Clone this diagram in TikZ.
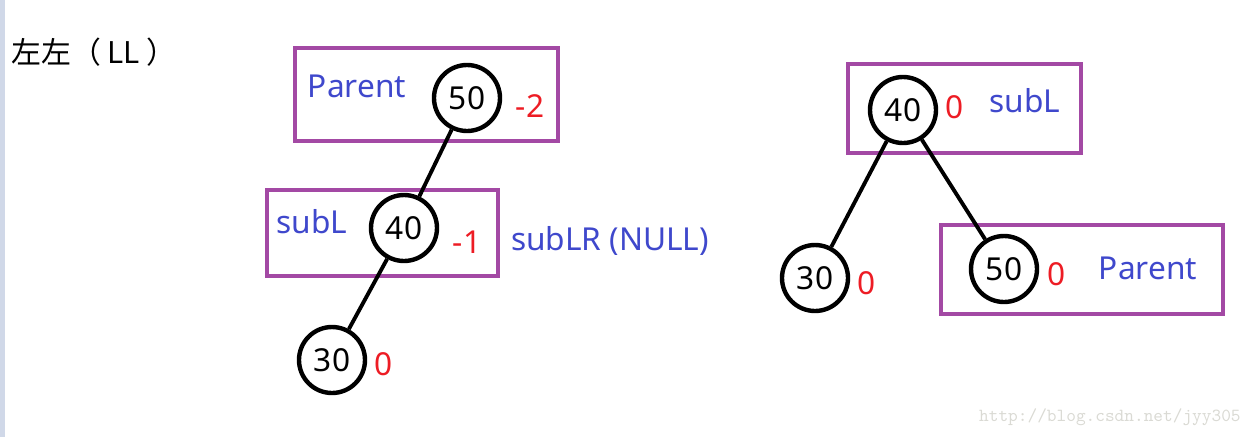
\documentclass[tikz,border=0pt]{standalone}
\usepackage{fontspec}
\setmainfont{Noto Sans}
\newfontfamily\cjkfont{Noto Sans CJK SC}
\definecolor{boxpurple}{RGB}{163,73,164}
\definecolor{tagblue}{RGB}{63,72,204}
\definecolor{balred}{RGB}{237,28,36}
\definecolor{barblue}{RGB}{208,216,232}
\definecolor{markgray}{RGB}{218,218,212}
\usetikzlibrary{positioning}

\begin{document}
\begin{tikzpicture}[x=0.02cm, y=-0.02cm,
    treenode/.style={circle, draw, line width=2.5pt, minimum size=1.32cm, inner sep=0pt,
      font=\fontsize{18}{18}\selectfont},
    bal/.style={text=balred, inner sep=0pt, font=\fontsize{18}{18}\selectfont},
    tag/.style={text=tagblue, inner sep=0pt, font=\fontsize{18}{18}\selectfont},
    frame/.style={draw=boxpurple, line width=2.3pt},
    link/.style={line width=2.2pt}]
  \useasboundingbox (0,0) rectangle (1252,437);
  \fill[barblue] (0,0) rectangle (5,437);
  \node[anchor=west, inner sep=0pt, font=\cjkfont\fontsize{17}{17}\selectfont] (title) at (11,52) {左左（ LL ）};

  % before rotation
  \draw[frame] (295,48) rectangle (558,141);
  \draw[frame] (267,190) rectangle (498,276);
  \node[treenode] (p50) at (467,98) {50};
  \node[treenode] (s40) at (404,228) {40};
  \node[treenode] (l30) at (332,360) {30};
  \draw[link] (p50) -- (s40);
  \draw[link] (s40) -- (l30);
  \node[tag] (ptag) at (357,86) {Parent};
  \node[bal] (pbal) at (530,106) {-2};
  \node[tag] (stag) at (312,222) {subL};
  \node[bal] (sbal) at (467,242) {-1};
  \node[tag] (nulltag) at (610,241) {subLR (NULL)};
  \node[bal] (lbal) at (384,364) {0};

  % after rotation
  \draw[frame] (848,64) rectangle (1081,153);
  \draw[frame] (941,225) rectangle (1223,314);
  \node[treenode] (r40) at (903,110) {40};
  \node[treenode] (r30) at (815,278) {30};
  \node[treenode] (r50) at (1004,269) {50};
  \draw[link] (r40) -- (r30);
  \draw[link] (r40) -- (r50);
  \node[bal] (r40bal) at (955,107) {0};
  \node[tag] (r40tag) at (1025,101) {subL};
  \node[bal] (r30bal) at (867,283) {0};
  \node[bal] (r50bal) at (1057,274) {0};
  \node[tag] (r50tag) at (1148,268) {Parent};

  \node[anchor=east, inner sep=0pt, text=markgray, font=\ttfamily\fontsize{10.5}{10.5}\selectfont] (mark) at (1241,417) {http://blog.csdn.net/jyy305};
\end{tikzpicture}
\end{document}
